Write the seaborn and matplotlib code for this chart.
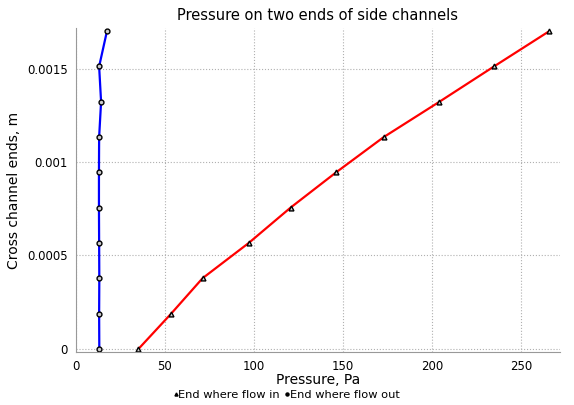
import numpy as np
import pandas as pd
import seaborn as sns
import matplotlib.pyplot as plt
from matplotlib.lines import Line2D
from matplotlib.ticker import MultipleLocator, FuncFormatter

# positions along the cross channel (m)
ends = [0, 0.000189, 0.000378, 0.000567, 0.000756, 0.000944, 0.001133, 0.001322, 0.001511, 0.0017]
# pressure at the end where flow goes in (Pa)
p_in = [35.1, 53.5, 71.1, 97.1, 120.6, 146.1, 172.9, 204.2, 234.9, 266.0]
# pressure at the end where flow goes out (Pa)
p_out = [13.1, 13.0, 13.1, 13.0, 12.9, 12.9, 13.0, 14.1, 13.0, 17.4]

df = pd.DataFrame({
    'pressure': p_in + p_out,
    'end': ends + ends,
    'series': ['End where flow in'] * len(ends) + ['End where flow out'] * len(ends),
})

sns.set_style('white')
plt.rcParams['font.family'] = ['DejaVu Sans']
plt.rcParams['text.color'] = 'black'
plt.rcParams['axes.labelcolor'] = 'black'
plt.rcParams['xtick.labelcolor'] = 'black'
plt.rcParams['ytick.labelcolor'] = 'black'

fig = plt.figure(figsize=(5.74, 4.05), dpi=100)
ax = fig.add_axes([0.1324, 0.131, 0.8432, 0.80])

sns.lineplot(data=df, x='pressure', y='end', hue='series', style='series',
             palette=['#ff0000', '#0000ff'], markers=['^', 'o'], dashes=False,
             estimator=None, sort=False, linewidth=1.6, markersize=3.5,
             markeredgecolor='black', markerfacecolor='#cccccc', markeredgewidth=1.0,
             legend=False, ax=ax)

ax.set_xlim(0, 272)
ax.set_ylim(-0.000016, 0.001717)
ax.xaxis.set_major_locator(MultipleLocator(50))
ax.xaxis.set_minor_locator(MultipleLocator(10))
ax.yaxis.set_major_locator(MultipleLocator(0.0005))
ax.yaxis.set_minor_locator(MultipleLocator(0.0001))
ax.yaxis.set_major_formatter(FuncFormatter(lambda v, p: '%g' % round(v, 6)))

ax.grid(True, which='major', color='#b0b0b0', linestyle=':', linewidth=0.8)
for s in ['top', 'right']:
    ax.spines[s].set_visible(False)
for s in ['left', 'bottom']:
    ax.spines[s].set_color('#999999')
    ax.spines[s].set_linewidth(0.8)
ax.tick_params(which='major', length=4, color='#999999', labelsize=8.5, pad=2)
ax.tick_params(which='minor', length=2, color='#999999')

ax.set_title('Pressure on two ends of side channels', fontsize=10.5, pad=6)
ax.set_xlabel('Pressure, Pa', fontsize=10, labelpad=0)
ax.set_ylabel('Cross channel ends, m', fontsize=10, labelpad=4)

handles = [Line2D([], [], linestyle='none', marker='^', color='black', markersize=2.2),
           Line2D([], [], linestyle='none', marker='o', color='black', markersize=2.2)]
fig.legend(handles, ['End where flow in', 'End where flow out'], loc='lower center',
           bbox_to_anchor=(0.5, -0.012), ncol=2, frameon=False, fontsize=8.2,
           handlelength=0.3, handletextpad=0.1, columnspacing=0.5)

fig.savefig('out.png', dpi=100)
